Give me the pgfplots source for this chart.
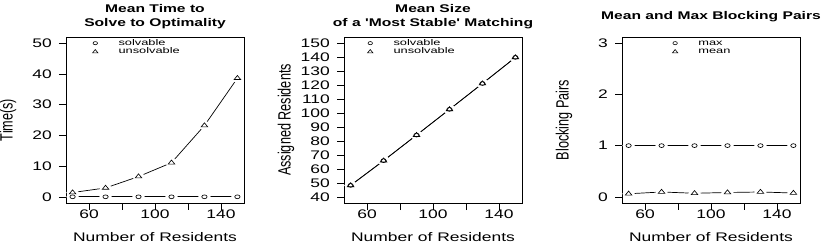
\documentclass[border=0pt]{standalone}
\usepackage{fontspec}
\setmainfont{Liberation Sans}[FakeStretch=1.4, Ligatures=TeXOff]
\newfontfamily\yfont{Liberation Sans}[FakeStretch=0.714]
\newfontfamily\legfont{Liberation Sans}[FakeStretch=1.55]
\usepackage{pgfplots}
\usepackage{pgfplotstable}
\pgfplotsset{compat=1.18}

\pgfplotstableread{
x s u
50 0.02 1.4
70 0.02 2.9
90 0.02 6.6
110 0.02 11.1
130 0.02 23.2
150 0.02 38.6
}\tabA
\pgfplotstableread{
x s u
50 48.2 48.2
70 65.9 65.9
90 84.2 84.2
110 102.6 102.6
130 121.1 121.1
150 139.8 139.8
}\tabB
\pgfplotstableread{
x s u
50 1 0.06
70 1 0.095
90 1 0.07
110 1 0.085
130 1 0.095
150 1 0.075
}\tabC

\pgfplotsset{
  rstyle/.style={
    scale only axis, width=178bp, height=166bp,
    anchor=south west,
    xmin=46, xmax=154,
    xtick={60,80,100,120,140}, xticklabels={60,,100,,140},
    tick align=outside, xtick pos=left, ytick pos=left,
    major tick length=7bp,
    tick style={black, line width=0.7bp},
    axis line style={line width=0.7bp},
    /pgf/number format/assume math mode=true,
    tick label style={font=\fontsize{12.5}{15}\selectfont},
    xticklabel style={anchor=north, inner sep=0pt},
    yticklabel style={anchor=east, inner sep=0pt, xshift=-7bp},
    xlabel={Number of Residents},
    xlabel style={font=\fontsize{12.5}{15}\selectfont, at={(axis description cs:0.5,-0.205)}, anchor=center},
    ylabel style={font=\yfont\fontsize{17.8}{20}\selectfont, at={(axis description cs:-0.326,0.5)}, anchor=center},
    title style={font=\bfseries\fontsize{11.2}{14}\selectfont, align=center, at={(axis description cs:0.5,1.1325)}, anchor=center, yshift=-8bp},
    legend style={draw=none, fill=none, anchor=north west, inner sep=0pt,
      font=\legfont\fontsize{8.3}{9}\selectfont, row sep=0pt,
      nodes={inner sep=0.3bp, text height=6bp, text depth=2bp, anchor=west}},
    legend cell align=left,
    legend image code/.code={\draw[draw=none] (0bp,0bp) -- (30bp,0bp); \draw[##1] plot coordinates {(7bp,0bp)};},
  },
  ln/.style={forget plot, black, line width=0.7bp, no markers},
  halo/.style={forget plot, only marks, mark=*, mark size=4.2bp, mark options={draw=white, fill=white, xscale=1.4}},
  mc/.style={forget plot, only marks, mark=o, mark size=1.9bp, mark options={black, line width=0.65bp, xscale=1.4}},
  mt/.style={forget plot, only marks, mark=triangle, mark size=2.7bp, mark options={black, line width=0.65bp, xscale=1.4}},
}

\begin{document}
\begin{tikzpicture}
\path[use as bounding box] (0,0) rectangle (830bp,248bp);

\begin{axis}[rstyle, at={(66bp,45bp)},
  ymin=-2, ymax=52, ytick={0,10,...,50},
  ylabel={Time(s)},
  title={Mean Time to\\Solve to Optimality},
  legend style={at={(axis description cs:0.124,0.99)}}]
\addlegendimage{only marks, mark=o, mark size=1.6bp, mark options={black, line width=0.6bp, xscale=1.4}}
\addlegendentry{solvable}
\addlegendimage{only marks, mark=triangle, mark size=2.2bp, mark options={black, line width=0.6bp, xscale=1.4}}
\addlegendentry{unsolvable}
\addplot[ln] table[x=x,y=s] {\tabA};
\addplot[ln] table[x=x,y=u] {\tabA};
\addplot[halo] table[x=x,y=s] {\tabA};
\addplot[halo] table[x=x,y=u] {\tabA};
\addplot[mc] table[x=x,y=s] {\tabA};
\addplot[mt] table[x=x,y=u] {\tabA};
\end{axis}

\begin{axis}[rstyle, at={(344bp,45bp)},
  ymin=35.6, ymax=154.4, ytick={40,50,...,150},
  ylabel={Assigned Residents},
  title={Mean Size\\of a 'Most Stable' Matching},
  legend style={at={(axis description cs:0.107,0.99)}}]
\addlegendimage{only marks, mark=o, mark size=1.6bp, mark options={black, line width=0.6bp, xscale=1.4}}
\addlegendentry{solvable}
\addlegendimage{only marks, mark=triangle, mark size=2.2bp, mark options={black, line width=0.6bp, xscale=1.4}}
\addlegendentry{unsolvable}
\addplot[ln] table[x=x,y=s] {\tabB};
\addplot[ln] table[x=x,y=u] {\tabB};
\addplot[halo] table[x=x,y=s] {\tabB};
\addplot[halo] table[x=x,y=u] {\tabB};
\addplot[mc] table[x=x,y=s] {\tabB};
\addplot[mt] table[x=x,y=u] {\tabB};
\end{axis}

\begin{axis}[rstyle, at={(622bp,45bp)},
  ymin=-0.12, ymax=3.12, ytick={0,1,2,3},
  ylabel={Blocking Pairs},
  title={Mean and Max Blocking Pairs},
  legend style={at={(axis description cs:0.258,0.99)}}]
\addlegendimage{only marks, mark=o, mark size=1.6bp, mark options={black, line width=0.6bp, xscale=1.4}}
\addlegendentry{max}
\addlegendimage{only marks, mark=triangle, mark size=2.2bp, mark options={black, line width=0.6bp, xscale=1.4}}
\addlegendentry{mean}
\addplot[ln] table[x=x,y=s] {\tabC};
\addplot[ln] table[x=x,y=u] {\tabC};
\addplot[halo] table[x=x,y=s] {\tabC};
\addplot[halo] table[x=x,y=u] {\tabC};
\addplot[mc] table[x=x,y=s] {\tabC};
\addplot[mt] table[x=x,y=u] {\tabC};
\end{axis}
\end{tikzpicture}
\end{document}
